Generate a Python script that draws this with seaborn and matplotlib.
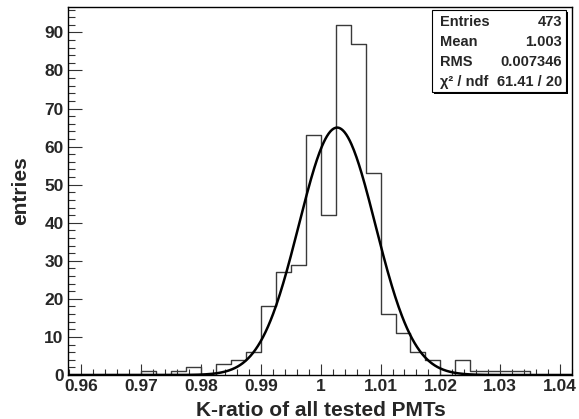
import matplotlib
matplotlib.use("Agg")
import matplotlib.pyplot as plt
import matplotlib.patches as mpatches
import seaborn as sb
import numpy as np
import pandas as pd

# histogram contents, bins of 0.0025 starting at 0.9575
bin_start = 0.9575
bin_width = 0.0025
counts = [0, 0, 0, 0, 0, 1, 0, 1, 2, 0,
          3, 4, 6, 18, 27, 29, 63, 42, 92, 87,
          53, 16, 11, 6, 4, 0, 4, 1, 1, 1,
          1, 0, 0, 0]

# gaussian fit parameters
fit_const = 65.0
fit_mean = 1.00274
fit_sigma = 0.0064

stat_names = ["Entries", "Mean", "RMS", "\u03c7\u00b2 / ndf"]
stat_values = ["473", "1.003", "0.007346", "61.41 / 20"]

sb.set_style("ticks")
plt.rcParams['font.family'] = ['Liberation Sans', 'DejaVu Sans']
plt.rcParams['font.weight'] = 'bold'

W, H = 579, 419
fig = plt.figure(figsize=(W / 100, H / 100), dpi=100)
ax = fig.add_axes([67.7 / W, 1 - 375 / H, (572 - 67.7) / W, (375 - 7.3) / H])

edges = list(bin_start + bin_width * np.arange(len(counts) + 1))
centers = [(a + b) / 2 for a, b in zip(edges[:-1], edges[1:])]
df = pd.DataFrame({"x": centers, "n": counts})
sb.histplot(data=df, x="x", weights="n", bins=edges, element="step", fill=False,
            color="#3a3a3a", linewidth=1.0, ax=ax)

xs = np.linspace(0.9577, 1.042, 600)
ys = fit_const * np.exp(-0.5 * ((xs - fit_mean) / fit_sigma) ** 2)
sb.lineplot(x=xs, y=ys, color="black", linewidth=1.8, ax=ax)

ax.set_xlim(0.9577, 1.042)
ax.set_ylim(0, 1.05 * max(counts))
ax.set_xticks(np.arange(0.96, 1.0401, 0.01))
ax.set_xticklabels(["0.96", "0.97", "0.98", "0.99", "1", "1.01", "1.02", "1.03", "1.04"])
ax.set_xticks(np.arange(0.958, 1.042, 0.002), minor=True)
ax.set_yticks(range(0, 91, 10))
ax.set_yticks(range(0, 97, 2), minor=True)
ax.tick_params(axis="both", which="both", direction="in", top=False, right=False,
               labelsize=12.5, color="#333333")
ax.tick_params(axis="x", which="major", length=8, width=0.8, pad=3)
ax.tick_params(axis="x", which="minor", length=4.5, width=0.8)
ax.tick_params(axis="y", which="major", length=10, width=0.8, pad=3)
ax.tick_params(axis="y", which="minor", length=5, width=0.8)
for lab in ax.get_xticklabels() + ax.get_yticklabels():
    lab.set_fontweight("bold")
for sp in ax.spines.values():
    sp.set_visible(True)
    sp.set_linewidth(1.0)
    sp.set_color("black")

ax.set_xlabel("")
ax.set_ylabel("")
fig.text(321 / W, 1 - 410 / H, "K-ratio of all tested PMTs", ha="center", va="center",
         fontsize=15, fontweight="bold")
fig.text(21 / W, 1 - 191 / H, "entries", ha="center", va="center", rotation=90,
         fontsize=15, fontweight="bold")

# stats box with shadow
bx0, by0, bx1, by1 = 432, 10, 566, 92
fig.patches.append(mpatches.Rectangle(((bx0 + 2) / W, 1 - (by1 + 2) / H), (bx1 - bx0) / W,
                                      (by1 - by0) / H, transform=fig.transFigure,
                                      facecolor="black", edgecolor="black", lw=0))
fig.patches.append(mpatches.Rectangle((bx0 / W, 1 - by1 / H), (bx1 - bx0) / W,
                                      (by1 - by0) / H, transform=fig.transFigure,
                                      facecolor="white", edgecolor="black", lw=0.8))
row_y = [21.7, 42.3, 62, 81.7]
for name, val, yy in zip(stat_names, stat_values, row_y):
    fig.text(440 / W, 1 - yy / H, name, ha="left", va="center", fontsize=10.5, fontweight="bold")
    fig.text(562 / W, 1 - yy / H, val, ha="right", va="center", fontsize=10.5, fontweight="bold")

fig.savefig("out.png", dpi=100)
